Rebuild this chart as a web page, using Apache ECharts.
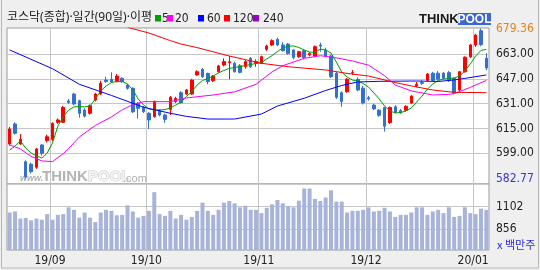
<!DOCTYPE html>
<html><head><meta charset="utf-8">
<script src="https://cdn.jsdelivr.net/npm/echarts@6/dist/echarts.min.js"></script>
<style>html,body{margin:0;padding:0;background:#efefef}#c{width:540px;height:270px}</style>
</head><body><div id="c"></div>
<script>
const dates = [
'19/08/21','19/08/22','19/08/23','19/08/26','19/08/27','19/08/28','19/08/29','19/08/30',
'19/09/02','19/09/03','19/09/04','19/09/05','19/09/06','19/09/09','19/09/10','19/09/11','19/09/16','19/09/17','19/09/18','19/09/19','19/09/20','19/09/23','19/09/24','19/09/25','19/09/26','19/09/27',
'19/10/01','19/10/02','19/10/04','19/10/07','19/10/08','19/10/10','19/10/11','19/10/14','19/10/15','19/10/16','19/10/17','19/10/18','19/10/21','19/10/22','19/10/23','19/10/24','19/10/25','19/10/28','19/10/29','19/10/30','19/10/31',
'19/11/01','19/11/04','19/11/05','19/11/06','19/11/07','19/11/08','19/11/11','19/11/12','19/11/13','19/11/14','19/11/15','19/11/18','19/11/19','19/11/20','19/11/21','19/11/22','19/11/25','19/11/26','19/11/27','19/11/28',
'19/12/02','19/12/03','19/12/04','19/12/05','19/12/06','19/12/09','19/12/10','19/12/11','19/12/12','19/12/13','19/12/16','19/12/17','19/12/18','19/12/19','19/12/20','19/12/23','19/12/24','19/12/26','19/12/27','19/12/30',
'20/01/02','20/01/03','20/01/06'];

const openP = [605,617.9,605,593.6,592,590,604.4,607.2,608,619,
619,632.7,637.2,632.9,626.9,624.8,633.3,637.2,646.2,646.7,
645.2,647.3,643,640.9,631.2,628.6,624.8,622.6,626.9,623.7,
627.3,632.3,638.1,637.2,637.2,649.5,653.1,650.5,645.8,651.6,
655.9,657.4,657,655.5,654.8,660.2,657,657,666,668.8,
672.4,668.8,669.4,665.6,661.3,665.1,662.3,661.7,668.8,665.6,
661.7,650.6,638.1,638.7,650.8,646.7,641,634.8,630.1,626.8,
628.6,618.7,629,626.5,626.7,631.4,642.4,644.6,646,650.6,
650.6,650.6,651,647.3,639.8,651.6,661.1,668.8,678,660.2];
const closeP = [614.7,611.9,608,584,587.2,601.8,599,609.7,618.3,620.5,
628.6,631.8,630.8,624.8,623,629.7,637.2,644.1,645.2,645,
648.8,645.2,640.9,625.8,628,625.8,620.5,632.3,623.7,620.9,
635.1,634.4,631.6,639.8,646.2,651.6,648.4,645.2,648.8,655.3,
658.1,658,651.6,651.2,658.1,654.8,658.1,661.3,668.1,671.6,
668.8,665.1,663.4,660.8,664.5,660.8,663.4,667.7,668.1,661.7,
648.4,635.1,632.3,646.7,651,639.8,631.5,634,627.6,623.5,
616.5,628.6,625.5,625,629.3,635.9,643.5,644.1,650.1,646,
646.8,647.3,646,637.8,651.6,660.9,668.8,675.2,669,654];
const lowP = [604,611,604.5,582.77,586,589,597.5,606,607,618,
618.5,631,630,622,622,624,632.5,636.5,644.5,644.5,
644.8,644.5,640,625,621.5,625,614.7,622,622.8,618.7,
623.7,631.5,631,636.5,636.5,649,647.5,643.5,645,651,
655,646.7,651,650.5,653.5,654,654.8,656.5,665,668,
668,664.5,662.5,659.5,660.5,659.5,661.5,661,664.5,660.8,
647.5,634,629,638,649.5,639,630.5,633,627,622.5,
613,618,624.8,624.5,626,630.8,641.5,643,645.5,645,
646,646.5,645,637,639,651,660.5,667.5,668,652.5];
const highP = [616,619,611.4,594.5,593,602.5,605,611,619,621.5,
629.5,634,638,633.5,628,630.5,638,645.8,648.4,651.2,
650.1,648,643.8,641.5,632,629.5,625.5,633,627.5,624.5,
636,635.5,639,640.5,647,652.5,654,651,649.5,656,
660.2,661.7,658,656.5,659,661,659.6,662,669,672.5,
673.5,670.5,670,666,665,666,664,668.5,670.3,667,
662.5,651.5,639,647.5,652.7,648,642.5,636,631,627.5,
629,629.2,630,627.5,630,636.5,645,646,650.8,651.5,
652,651.5,652,648,652,661.5,669.5,676,679.36,663.5];
const volume = [1039,1050,973,980,954,973,961,1021,961,1013,
1021,1095,1068,983,1039,983,935,1039,1068,1057,
1009,1013,1116,1050,983,1002,1057,1260,1021,1002,
1057,973,1013,961,991,1057,1146,1057,1013,1068,
1146,1164,1139,1095,1113,1068,1068,1032,1090,1128,
1175,1139,1109,1095,1168,1300,1300,1187,1164,1202,
1280,1157,1157,1039,1057,1057,1068,1095,1050,1057,
1090,1050,991,1013,1013,1039,1095,1095,1013,1050,
1068,1032,1095,991,1002,1095,1032,1021,1080,1068];

const ma5 = [601.1,603.7,607,602.4,599.2,597.3,596,599.2,605.7,616.6,
622.4,626.9,628.9,629.2,628.9,629.5,634,639.2,642.4,644.6,
645.3,645.3,643.7,639.8,634,630.1,627.6,626.9,626.9,627.2,
628.2,630.1,632.1,635.6,638.8,643,645.9,647.2,648.8,650.8,
652.4,653.7,654.3,654.9,655.6,656.2,656.9,657.4,659.8,662,
664.6,666.9,668,668.2,667.2,665.6,664.3,664,666.2,665.6,
663.6,657.8,651.4,648.2,646.2,645.6,644,641.7,637.9,634,
629.5,626.3,625,625.3,626.3,628.2,632.1,635.9,640.4,643.7,
645.9,646.9,647.2,647.5,648.8,652,656.6,661.7,665.3,666];
const ma20Idx = [0,2,4,6,8,10,11,13,16,19,21,23,25,30,33,38,42,46,49,51,55,58,61,64,67,70,72,75,79,82,83,86,89];
const ma20Val = [604.4,601.8,597,594.1,593.7,598.8,602,609.5,617,622.5,627,630.4,632.3,632.3,634.7,636.6,638.6,643.5,651.5,655.5,660.2,661.9,660.5,658.5,655.8,649,643,639.2,636.6,637,637.5,641.5,646];
const ma60Idx = [0,8,13,19,25,30,33,37,42,47,50,55,59,62,65,69,76,80,83,85,89];
const ma60Val = [665.6,653.5,643.5,636.3,628.7,624.8,622.8,621.1,621.1,624.3,629.5,634.5,639.5,642.7,645,645.4,645.6,645.3,646.3,647.3,649.5];
const ma120Idx = [22,26,30,32,35,41,47,52,59,63,67,72,75,79,83,89];
const ma120Val = [680.2,676.5,671.6,669.4,667.1,661.7,657,654.8,652.7,650.5,648.8,644.6,642.4,639.8,638.3,638.1];

const maNames = ['5','20','60','120','240'];
const maColors = ['#00a000','#ff00ff','#0000ff','#ff0000','#9900cc'];
const priceTicks = [663,647,631,615,599];
const priceMaxLabel = 679.36;
const priceMinLabel = 582.77;
const volTicks = [1102,856];
const volUnit = 'x 백만주';
const titleText = '코스닥(종합)·일간(90일)·이평';

const NARROW = "'Liberation Sans Narrow','DejaVu Sans Condensed','Liberation Sans',sans-serif";
const N = dates.length;
function sparse(idx, val){ const a = new Array(N).fill(null); idx.forEach((k,j)=>{a[k]=val[j];}); return a; }
const monthStart = [];
dates.forEach((d,i)=>{ if(i>0 && d.slice(0,5)!==dates[i-1].slice(0,5)) monthStart.push(i); });
const candles = dates.map((d,i)=>[openP[i], closeP[i], lowP[i], highP[i]]);

const gridLine = {color:'#c6c6c6', width:1, type:'solid'};
function xAx(gi, showLabel){
  return {type:'category', gridIndex:gi, data:dates, boundaryGap:true,
    axisLine:{show:false}, axisTick:{show:false},
    axisLabel: showLabel ? {show:true, interval:(i)=>monthStart.includes(i),
      formatter:(v)=>v.slice(0,5), margin:5, fontSize:12, color:'#222', fontFamily:NARROW, padding:[0,5,0,0]} : {show:false},
    splitLine:{show:true, interval:(i)=>monthStart.includes(i), lineStyle:gridLine}};
}
function yAx(gi, mn, mx){
  return {type:'value', gridIndex:gi, min:mn, max:mx, position:'right',
    axisLine:{show:false}, axisTick:{show:false}, axisLabel:{show:false}, splitLine:{show:false}};
}
const lblBase = {position:'end', distance:7, fontSize:12, fontFamily:NARROW, color:'#222'};
const hiddenLine = {color:'rgba(0,0,0,0)', width:1, type:'solid'};
const fmt2 = (p)=>Number(p.value).toFixed(2);

const maData = [ma5, sparse(ma20Idx, ma20Val), sparse(ma60Idx, ma60Val), sparse(ma120Idx, ma120Val), new Array(N).fill(null)];
const maSeries = maNames.map((nm,k)=>({
  name:nm, type:'line', xAxisIndex:0, yAxisIndex:0, data:maData[k], connectNulls:true,
  symbol:'none', showSymbol:false, smooth:false, silent:true, z:3,
  lineStyle:{color:maColors[k], width:1}
}));

const graphics = [
  {type:'rect', shape:{x:1.5,y:-2,width:537,height:270}, style:{fill:'none', stroke:'#b8b8b8', lineWidth:1}, z:20},
  {type:'text', x:7, y:18, style:{text:titleText, font:"12px 'Noto Sans','Noto Sans CJK KR'", fill:'#222', textVerticalAlign:'middle'}, z:20}
];
const legX = [155,167,198,224,253];
const legTX = [162,175,207,233,263];
maNames.forEach((nm,k)=>{
  graphics.push({type:'rect', shape:{x:legX[k], y:15, width:6, height:6.5}, style:{fill:maColors[k]}, z:20});
  graphics.push({type:'text', x:legTX[k], y:18.5, style:{text:nm, font:"12px "+NARROW, fill:'#222', textVerticalAlign:'middle'}, z:20});
});
graphics.push(
  {type:'text', x:419, y:19, style:{text:'THINK', font:"bold 13px 'Liberation Sans'", fill:'#1a1a1a', textVerticalAlign:'middle'}, z:20},
  {type:'rect', shape:{x:458, y:13, width:33, height:12}, style:{fill:'#3d66cf'}, z:20},
  {type:'text', x:474.5, y:19.5, style:{text:'POOL', font:"bold 12px 'Liberation Sans'", fill:'#fff', textAlign:'center', textVerticalAlign:'middle'}, z:21},
  {type:'text', x:20, y:179, style:{text:'www.', font:"italic bold 9px 'Liberation Sans'", fill:'#b0b0b0', textVerticalAlign:'middle'}, z:1},
  {type:'text', x:42, y:177, style:{text:'THINK', font:"bold 15px 'Liberation Sans'", fill:'#b4b4b4', textVerticalAlign:'middle'}, z:1},
  {type:'text', x:88, y:177, style:{text:'POOL', font:"bold 15px 'Liberation Sans'", fill:'#f4f4f4', stroke:'#c4c4c4', lineWidth:1, textVerticalAlign:'middle'}, z:1},
  {type:'text', x:123, y:179, style:{text:'.com', font:"11px 'Liberation Sans'", fill:'#b0b0b0', textVerticalAlign:'middle'}, z:1},
  {type:'text', x:497, y:245, style:{text:volUnit, font:"11px 'Noto Sans CJK KR'", fill:'#2a2ad0', textVerticalAlign:'middle'}, z:20}
);

const option = {
  animation:false,
  backgroundColor:'#efefef',
  grid:[
    {left:7, top:28, width:482, height:156, show:true, backgroundColor:'#ffffff', borderColor:'#9a9a9a', borderWidth:1},
    {left:7, top:184, width:482, height:66, show:true, backgroundColor:'#ffffff', borderColor:'#9a9a9a', borderWidth:1}
  ],
  xAxis:[xAx(0,false), xAx(1,true)],
  yAxis:[yAx(0,579.25,679.75), yAx(1,631,1349)],
  graphic:graphics,
  series:[
    {type:'candlestick', name:'KOSDAQ', xAxisIndex:0, yAxisIndex:0, data:candles, barWidth:3, silent:true, z:2,
     itemStyle:{color:'#ff0000', color0:'#3270d2', borderColor:'#ff0000', borderColor0:'#3270d2', borderWidth:1},
     markLine:{silent:true, z:1, symbol:['none','none'], animation:false, lineStyle:gridLine,
       label:Object.assign({}, lblBase, {formatter:fmt2}),
       emphasis:{disabled:true},
       data: priceTicks.map(v=>({yAxis:v})).concat([
         {yAxis:priceMaxLabel, lineStyle:hiddenLine, label:Object.assign({}, lblBase, {color:'#e8801e', formatter:fmt2, padding:[5,0,0,0]})},
         {yAxis:priceMinLabel, lineStyle:hiddenLine, label:Object.assign({}, lblBase, {color:'#3434e0', formatter:fmt2})}])}
    },
    ...maSeries,
    {type:'bar', name:'volume', xAxisIndex:1, yAxisIndex:1, data:volume, barWidth:4, silent:true, z:2,
     itemStyle:{color:'#a7b3da'},
     markLine:{silent:true, z:1, symbol:['none','none'], animation:false, lineStyle:gridLine,
       label:Object.assign({}, lblBase, {formatter:(p)=>String(p.value)}),
       emphasis:{disabled:true},
       data: volTicks.map(v=>({yAxis:v}))}
    }
  ]
};
const chart = echarts.init(document.getElementById('c'), null, {renderer:'canvas'});
chart.setOption(option);
</script></body></html>
